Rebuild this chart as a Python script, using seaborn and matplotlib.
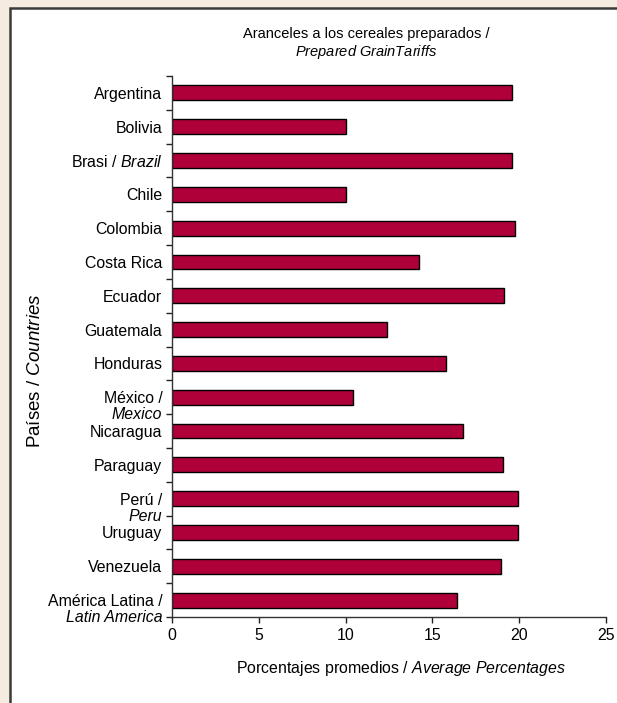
"""
Prepared grain tariffs in Latin America - horizontal bar chart
"""

import numpy as np
import pandas as pd
import matplotlib
matplotlib.use('Agg')
import matplotlib.pyplot as plt
from matplotlib.patches import Rectangle
import seaborn as sns

# Data
countries = [
    'Argentina', 'Bolivia', 'Brasi / $\\it{Brazil}$', 'Chile', 'Colombia',
    'Costa Rica', 'Ecuador', 'Guatemala', 'Honduras', 'México /\nMexico',
    'Nicaragua', 'Paraguay', 'Perú /\nPeru', 'Uruguay', 'Venezuela',
    'América Latina /\nLatin America',
]
tariffs = [19.6, 10.0, 19.6, 10.0, 19.75, 14.25, 19.15, 12.4, 15.8, 10.45,
           16.75, 19.05, 19.95, 19.95, 18.95, 16.4]
x_ticks = [0, 5, 10, 15, 20, 25]

title_text = 'Aranceles a los cereales preparados /\n$\\it{Prepared\\ GrainTariffs}$'
xlabel_text = 'Porcentajes promedios / $\\it{Average\\ Percentages}$'
ylabel_text = 'Países / $\\it{Countries}$'

BAR_COLOR = '#b0003a'
BEIGE = '#f5ebe0'
FS = 11.4

sns.set_style('white')
plt.rcParams['font.family'] = ['Liberation Sans', 'DejaVu Sans']
plt.rcParams['mathtext.fontset'] = 'custom'
plt.rcParams['mathtext.rm'] = 'Liberation Sans'
plt.rcParams['mathtext.it'] = 'Liberation Sans:italic'
plt.rcParams['text.color'] = 'black'
plt.rcParams['xtick.color'] = 'black'
plt.rcParams['ytick.color'] = 'black'

df = pd.DataFrame({'country': countries, 'tariff': tariffs})

fig = plt.figure(figsize=(6.17, 7.03), dpi=100, facecolor=BEIGE)

# White panel with a dark border, behind the axes
panel = Rectangle((10 / 617, -0.05), 1.2, 1 - 8 / 703 + 0.05,
                  transform=fig.transFigure, facecolor='white',
                  edgecolor='#3a3a3a', linewidth=1.8, zorder=-5)
fig.patches.append(panel)

ax = fig.add_axes([172 / 617, 1 - 617 / 703, (606 - 172) / 617, (617 - 76) / 703])
ax.set_zorder(2)
ax.patch.set_alpha(0)

sns.barplot(data=df, x='tariff', y='country', orient='h', color=BAR_COLOR,
            saturation=1, edgecolor='black', linewidth=1, width=0.44, ax=ax)

ax.set_xlim(0, 25)
ax.set_ylim(len(countries) - 0.5, -0.5)
ax.set_xticks(x_ticks)
ax.set_xticklabels([str(t) for t in x_ticks], fontsize=FS)
ax.set_yticks(np.arange(len(countries)))
ax.set_yticklabels([''] * len(countries))
ax.set_yticks(np.arange(-0.5, len(countries), 1), minor=True)

# Category labels: first line level with the bar, second line (italic) below
for i, name in enumerate(countries):
    lines = name.split('\n')
    ax.annotate(lines[0], xy=(0, i), xycoords=('axes fraction', 'data'),
                xytext=(-7, 0), textcoords='offset points',
                ha='right', va='center_baseline', fontsize=FS)
    if len(lines) > 1:
        ax.annotate(lines[1], xy=(0, i), xycoords=('axes fraction', 'data'),
                    xytext=(-7, -11.5), textcoords='offset points',
                    ha='right', va='center_baseline', fontsize=FS, style='italic')

ax.tick_params(axis='y', which='major', left=False, length=0)
ax.tick_params(axis='y', which='minor', left=True, length=4, width=1,
               direction='out', color='#222222')
ax.tick_params(axis='x', which='major', bottom=True, length=4, width=1,
               direction='out', color='#222222', pad=4)

ax.set_xlabel('')
ax.set_ylabel('')
for side in ['top', 'right']:
    ax.spines[side].set_visible(False)
for side in ['left', 'bottom']:
    ax.spines[side].set_color('#333333')
    ax.spines[side].set_linewidth(1)

fig.text(366 / 617, 1 - 44 / 703, title_text, ha='center', va='center',
         fontsize=10.5, linespacing=1.15)
fig.text(401 / 617, 1 - 668 / 703, xlabel_text, ha='center', va='center', fontsize=FS)
fig.text(36 / 617, 1 - 371 / 703, ylabel_text, ha='center', va='center',
         rotation=90, fontsize=13.5)

fig.savefig('out.png', dpi=100, facecolor=BEIGE)
